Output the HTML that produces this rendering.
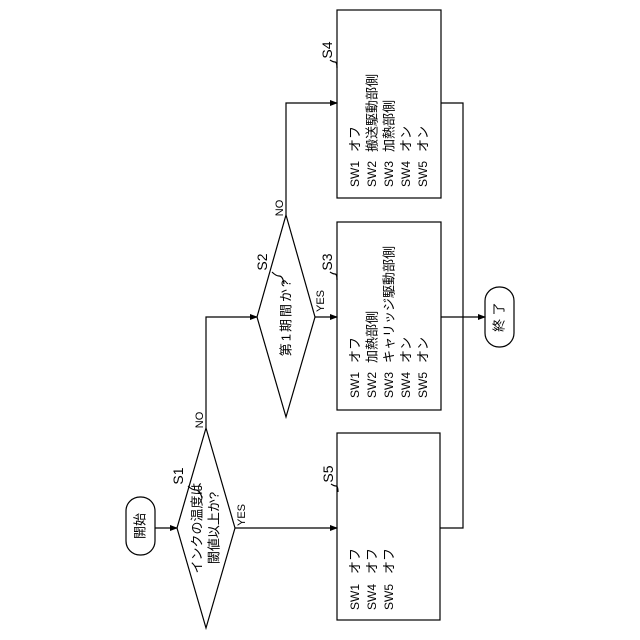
<!DOCTYPE html>
<html><head><meta charset="utf-8"><style>html,body{margin:0;padding:0;background:#fff}svg{display:block}text{font-family:"Liberation Sans","Noto Sans CJK JP",sans-serif;fill:#000}</style></head>
<body>
<svg width="640" height="640" viewBox="0 0 640 640" xmlns="http://www.w3.org/2000/svg">
<defs><marker id="a" markerWidth="8" markerHeight="8" refX="7" refY="4" orient="auto" markerUnits="userSpaceOnUse"><path d="M0,1 L8,4 L0,7 Z" fill="#000"/></marker></defs>
<g fill="none" stroke="#000" stroke-width="1.2">
<rect x="126" y="497" width="29" height="58" rx="14" fill="#fff"/>
<line x1="155" y1="528" x2="177" y2="528" marker-end="url(#a)"/>
<polygon points="206,428 235,528 206,628 177,528"/>
<line x1="235" y1="528" x2="337" y2="528" marker-end="url(#a)"/>
<polyline points="206,428 206,317 257,317" marker-end="url(#a)"/>
<polygon points="286,215 315,317 286,417 257,317"/>
<line x1="315" y1="317" x2="337" y2="317" marker-end="url(#a)"/>
<polyline points="286,215 286,103 337,103" marker-end="url(#a)"/>
<rect x="337" y="10" width="104" height="188"/>
<rect x="337" y="222" width="104" height="188"/>
<rect x="337" y="433" width="103" height="187"/>
<polyline points="441,103 463,103 463,528 440,528"/>
<line x1="441" y1="317" x2="485" y2="317" marker-end="url(#a)"/>
<rect x="485" y="287" width="29" height="60" rx="14"/>
<path d="M188,486 q4,4 8,4 q4,0 6,8"/>
<path d="M272,272 q4,4 7,4 q4,0 5,8"/>
<path d="M330,272 q3,2 5,2 q2,0 2,6"/>
<path d="M330,60 q3,2 5,2 q2,0 2,6"/>
<path d="M331,484 q3,2 5,2 q2,0 2,6"/>
</g>
<g font-size="13" dominant-baseline="central">
<text transform="translate(140,526) rotate(-90)" text-anchor="middle">開始</text>
<text transform="translate(499,317) rotate(-90)" text-anchor="middle">終 了</text>
<text transform="translate(197,528) rotate(-90)" text-anchor="middle">インクの温度は</text>
<text transform="translate(214,528) rotate(-90)" text-anchor="middle">閾値以上か?</text>
<text transform="translate(286,317) rotate(-90)" text-anchor="middle" font-size="13" letter-spacing="2">第1期間か?</text>
<text transform="translate(178,476) rotate(-90)" text-anchor="middle" font-size="14">S1</text>
<text transform="translate(262,262) rotate(-90)" text-anchor="middle" font-size="14">S2</text>
<text transform="translate(327,262) rotate(-90)" text-anchor="middle" font-size="14">S3</text>
<text transform="translate(327,50) rotate(-90)" text-anchor="middle" font-size="14">S4</text>
<text transform="translate(328,474) rotate(-90)" text-anchor="middle" font-size="14">S5</text>
<g font-size="11">
<text transform="translate(242,515) rotate(-90)" text-anchor="middle">YES</text>
<text transform="translate(200,420) rotate(-90)" text-anchor="middle">NO</text>
<text transform="translate(321,301) rotate(-90)" text-anchor="middle">YES</text>
<text transform="translate(280,208) rotate(-90)" text-anchor="middle">NO</text>
</g>
<g font-size="12">
<text transform="translate(355,398) rotate(-90)">SW1</text>
<text transform="translate(372,398) rotate(-90)">SW2</text>
<text transform="translate(389,398) rotate(-90)">SW3</text>
<text transform="translate(406,398) rotate(-90)">SW4</text>
<text transform="translate(423,398) rotate(-90)">SW5</text>
<text transform="translate(355,187) rotate(-90)">SW1</text>
<text transform="translate(372,187) rotate(-90)">SW2</text>
<text transform="translate(389,187) rotate(-90)">SW3</text>
<text transform="translate(406,187) rotate(-90)">SW4</text>
<text transform="translate(423,187) rotate(-90)">SW5</text>
<text transform="translate(355,610) rotate(-90)">SW1</text>
<text transform="translate(372,610) rotate(-90)">SW4</text>
<text transform="translate(389,610) rotate(-90)">SW5</text>
</g>
<text transform="translate(355,363) rotate(-90)">オフ</text>
<text transform="translate(372,363) rotate(-90)">加熱部側</text>
<text transform="translate(389,363) rotate(-90)">キャリッジ駆動部側</text>
<text transform="translate(406,363) rotate(-90)">オン</text>
<text transform="translate(423,363) rotate(-90)">オン</text>
<text transform="translate(355,152) rotate(-90)">オフ</text>
<text transform="translate(372,152) rotate(-90)">搬送駆動部側</text>
<text transform="translate(389,152) rotate(-90)">加熱部側</text>
<text transform="translate(406,152) rotate(-90)">オン</text>
<text transform="translate(423,152) rotate(-90)">オン</text>
<text transform="translate(355,574) rotate(-90)">オフ</text>
<text transform="translate(372,574) rotate(-90)">オフ</text>
<text transform="translate(389,574) rotate(-90)">オフ</text>
</g>
</svg>
</body></html>
